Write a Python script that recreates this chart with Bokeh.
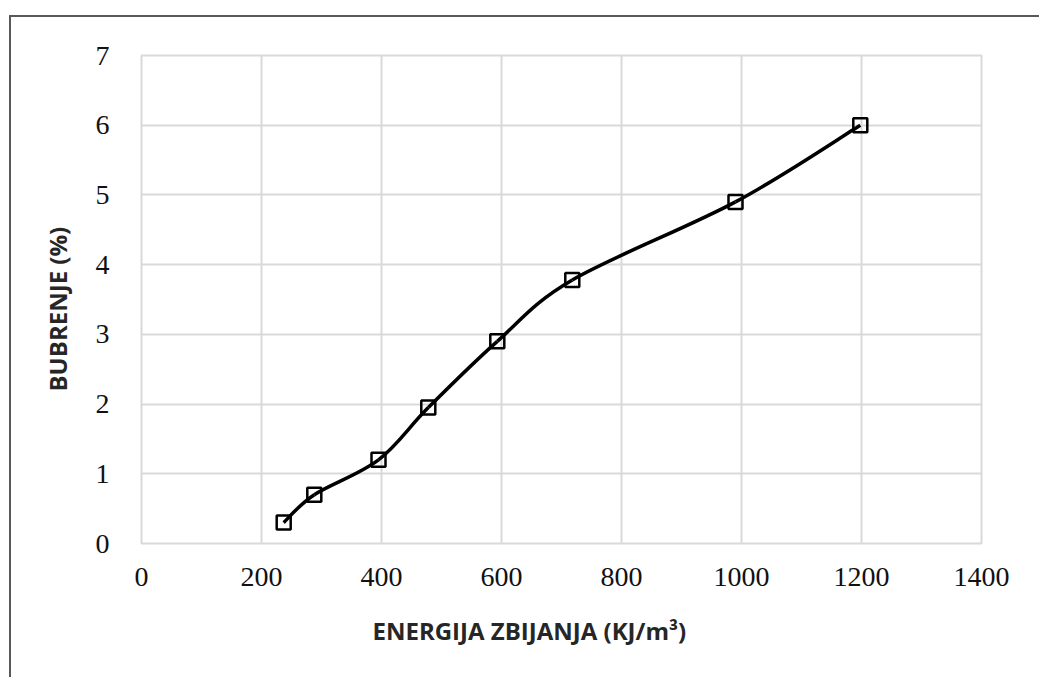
import numpy as np
from bokeh.plotting import figure
from bokeh.models import Range1d, FixedTicker, Title
from bokeh.embed import file_html
from bokeh.resources import INLINE

# data
energy = [237, 288, 395, 478, 593, 718, 990, 1198]
swelling = [0.3, 0.7, 1.2, 1.95, 2.9, 3.78, 4.9, 6.0]
x_ticks = [0, 200, 400, 600, 800, 1000, 1200, 1400]
y_ticks = [0, 1, 2, 3, 4, 5, 6, 7]
x_title = "ENERGIJA ZBIJANJA (KJ/m\u00b3)"
y_title = "BUBRENJE (%)"

p = figure(width=1039, height=677, output_backend="svg", toolbar_location=None,
           x_range=Range1d(0, 1400), y_range=Range1d(0, 7),
           min_border_left=141, min_border_right=58, min_border_top=55, min_border_bottom=134)
p.background_fill_color = "white"
p.border_fill_color = None
p.styles = {
    "background": "linear-gradient(#595959,#595959) 9px 15px / 2px 100% no-repeat, "
                  "linear-gradient(#595959,#595959) 9px 15px / 100% 2px no-repeat, white"
}
p.outline_line_color = "#d9d9d9"
p.outline_line_width = 2

for ax in (p.xaxis, p.yaxis):
    ax.axis_line_color = None
    ax.major_tick_line_color = None
    ax.minor_tick_line_color = None
    ax.major_label_text_font = "Liberation Serif"
    ax.major_label_text_font_size = "28px"
    ax.major_label_text_color = "#111111"
p.xaxis.ticker = FixedTicker(ticks=x_ticks)
p.yaxis.ticker = FixedTicker(ticks=y_ticks)
p.xaxis.major_label_standoff = 18
p.yaxis.major_label_standoff = 26

p.xgrid.ticker = FixedTicker(ticks=x_ticks)
p.ygrid.ticker = FixedTicker(ticks=y_ticks)
for g in (p.xgrid, p.ygrid):
    g.grid_line_color = "#d9d9d9"
    g.grid_line_width = 2

# smoothed line (Catmull-Rom -> cubic Bezier control points)
xs = np.array(energy, dtype=float)
ys = np.array(swelling, dtype=float)
xp = np.concatenate([[xs[0]], xs, [xs[-1]]])
yp = np.concatenate([[ys[0]], ys, [ys[-1]]])
n = len(xs)
cx0 = xs[:-1] + (xp[2:n + 1] - xp[0:n - 1]) / 6.0
cy0 = ys[:-1] + (yp[2:n + 1] - yp[0:n - 1]) / 6.0
cx1 = xs[1:] - (xp[3:n + 2] - xp[1:n]) / 6.0
cy1 = ys[1:] - (yp[3:n + 2] - yp[1:n]) / 6.0
p.bezier(x0=xs[:-1], y0=ys[:-1], x1=xs[1:], y1=ys[1:],
         cx0=cx0, cy0=cy0, cx1=cx1, cy1=cy1,
         line_color="black", line_width=3.5)

p.scatter(energy, swelling, marker="square", size=14, fill_alpha=0,
          line_color="black", line_width=2.5)

p.add_layout(Title(text=x_title, align="left", offset=231, standoff=46,
                   text_font="Open Sans", text_font_style="bold", text_font_size="24px",
                   text_color="#262626"), "below")
p.add_layout(Title(text=y_title, align="left", offset=152, standoff=37,
                   text_font="Open Sans", text_font_style="bold", text_font_size="24px",
                   text_color="#262626"), "left")

open("out.html", "w").write(file_html(p, INLINE))
